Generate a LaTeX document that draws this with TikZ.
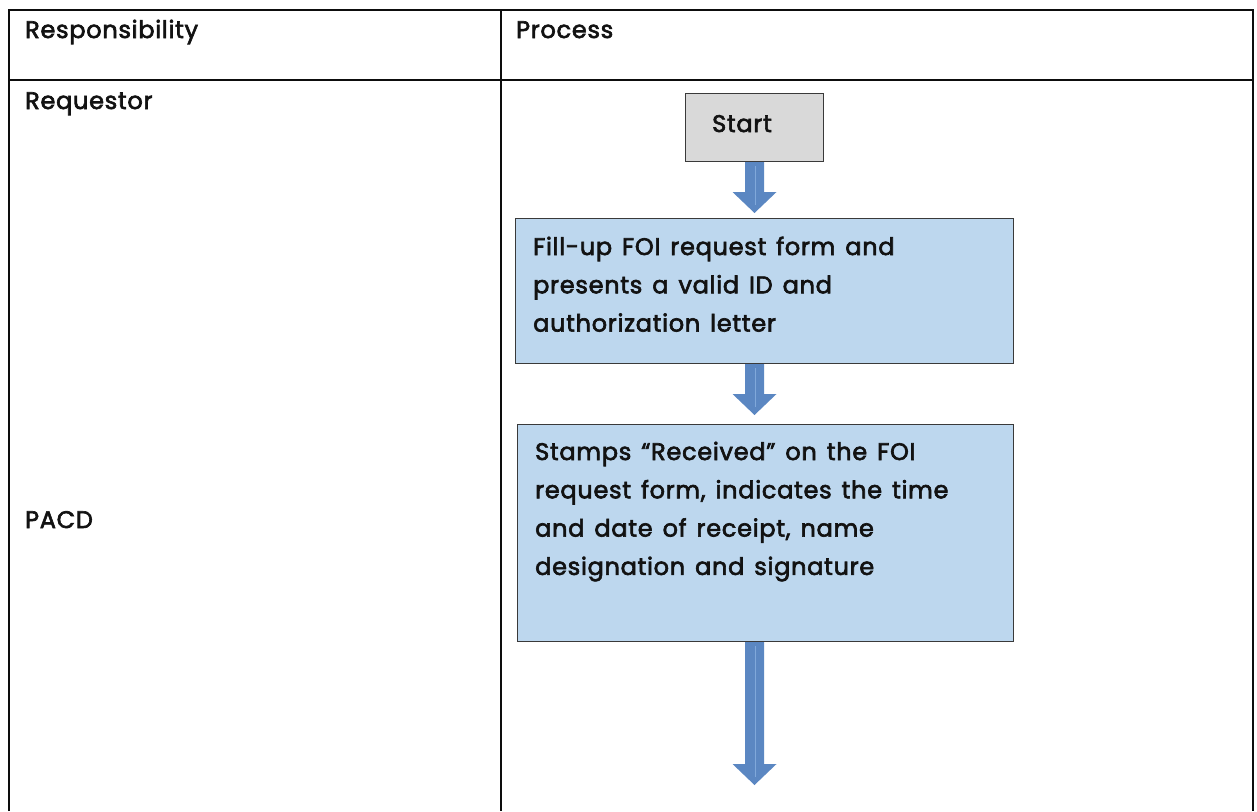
\documentclass[tikz,border=0pt]{standalone}
\usepackage{fontspec}
\setmainfont{Poppins}[BoldFont=Poppins, BoldFeatures={FakeBold=2.6}, LetterSpace=3, WordSpace=1.4]
\usetikzlibrary{calc}

\definecolor{gridink}{HTML}{0D0D0D}
\definecolor{textink}{HTML}{121212}
\definecolor{boxline}{HTML}{3A3A3A}
\definecolor{startfill}{HTML}{D9D9D9}
\definecolor{stepfill}{HTML}{BDD7EE}
\definecolor{flowblue}{HTML}{5B87C2}
\definecolor{flowlight}{HTML}{80A8DA}

% block arrow pointing down from #1 to #2
\newcommand\flowarrow[2]{%
  \fill[flowblue] let \p1=(#1), \p2=(#2) in
    (\x1-9.5pt,\y1) -- (\x1+9.5pt,\y1) -- (\x1+9.5pt,\y2+21pt)
    -- (\x1+22pt,\y2+21pt) -- (\x1,\y2) -- (\x1-22pt,\y2+21pt)
    -- (\x1-9.5pt,\y2+21pt) -- cycle;
  \draw[flowlight, line width=0.7pt] let \p1=(#1), \p2=(#2) in
    (\x1+1pt,\y1-4pt) -- (\x1+1pt,\y2+8pt);
}

\tikzset{
  gridline/.style={draw=gridink, line width=2.6pt},
  celltext/.style={font=\fontsize{24}{27}\selectfont\bfseries, text=textink, inner sep=0pt, anchor=base west},
  stepbox/.style={draw=boxline, line width=1pt, anchor=north west, inner sep=0pt},
  steptext/.style={font=\fontsize{24}{38.3}\selectfont\bfseries, text=textink, inner sep=0pt, anchor=base west},
}

\begin{document}
\begin{tikzpicture}[x=1pt,y=-1pt]
\useasboundingbox (0,0) rectangle (1257,811);

% table frame
\draw[gridline] (9,811) -- (9,10) -- (1253,10) -- (1253,811);
\draw[gridline] (9,80) -- (1253,80);
\draw[gridline] (501,10) -- (501,811);

% column headings and roles
\node[celltext] (hresp) at (25,38) {Responsibility};
\node[celltext] (hproc) at (516,38) {Process};
\node[celltext] (requestor) at (25,109) {Requestor};
\node[celltext] (pacd) at (25,528) {PACD};

% process steps
\node[stepbox, fill=startfill, minimum width=138pt, minimum height=68pt] (start) at (685,93) {};
\node[celltext] (starttext) at (712,132) {Start};

\node[stepbox, fill=stepfill, minimum width=498pt, minimum height=145pt] (fill) at (515,218) {};
\node[steptext] (filltext) at (533,255) {\parbox[t]{470pt}{\raggedright
  Fill-up FOI request form and\\
  presents a valid ID and\\
  authorization letter}};

\node[stepbox, fill=stepfill, minimum width=496pt, minimum height=217pt] (stamp) at (517,424) {};
\node[steptext] (stamptext) at (535,460) {\parbox[t]{470pt}{\raggedright
  Stamps “Received” on the FOI\\
  request form, indicates the time\\
  and date of receipt, name\\
  designation and signature}};

% connectors
\coordinate (a1) at (754,213);
\coordinate (a2) at (754,415);
\coordinate (a3) at (754,785);
\flowarrow{start.south}{a1}
\flowarrow{start.south |- fill.south}{a2}
\flowarrow{start.south |- stamp.south}{a3}
\end{tikzpicture}
\end{document}
